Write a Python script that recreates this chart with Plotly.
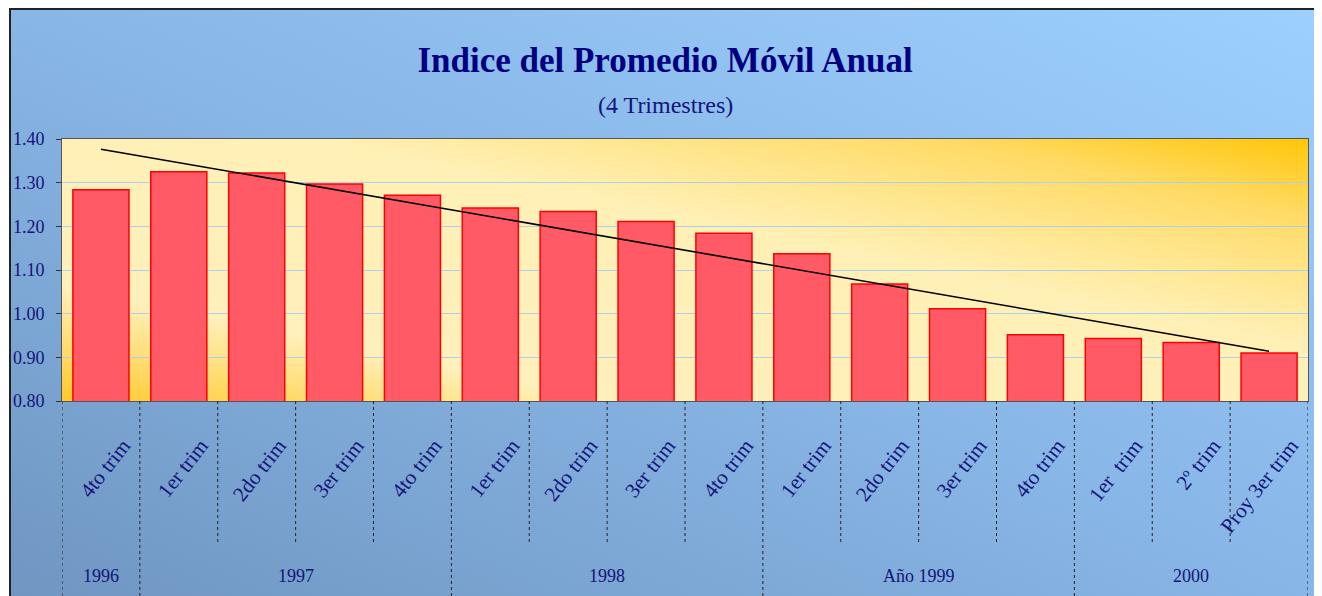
import base64
import numpy as np
import plotly.graph_objects as go

# ---------------- data ----------------
quarters = ["4to trim", "1er trim", "2do trim", "3er trim", "4to trim",
            "1er trim", "2do trim", "3er trim", "4to trim",
            "1er trim", "2do trim", "3er trim", "4to trim",
            "1er  trim", "2º trim", "Proy 3er trim"]
years = ["1996", "1997", "1998", "Año 1999", "2000"]
year_counts = [1, 4, 4, 4, 3]
values = [1.284, 1.325, 1.322, 1.297, 1.271, 1.242, 1.234, 1.211,
          1.184, 1.137, 1.068, 1.011, 0.952, 0.943, 0.934, 0.910]
y_tick_vals = [0.80, 0.90, 1.00, 1.10, 1.20, 1.30, 1.40]

# ---------------- layout geometry ----------------
OFF = 8                      # page body margin
W, H = 1322 - OFF, 596 - OFF
ML, MR, MT, MB = 54, 14, 131, 195
PW, PH = W - ML - MR, H - MT - MB

FONT = "Liberation Serif, Times New Roman, serif"
NAVY = "#14147a"


def px_x(rx):
    return (rx - OFF - ML) / PW


def px_y(ry):
    return (H - MB - (ry - OFF)) / PH


def svg_uri(w, h, stops, x1, y1, x2, y2):
    st = "".join(f"<stop offset='{o}' stop-color='{c}'/>" for o, c in stops)
    svg = (f"<svg xmlns='http://www.w3.org/2000/svg' width='{w}' height='{h}' "
           f"viewBox='0 0 {w} {h}' preserveAspectRatio='none'><defs>"
           f"<linearGradient id='g' x1='{x1}' y1='{y1}' x2='{x2}' y2='{y2}'>{st}"
           f"</linearGradient></defs><rect width='{w}' height='{h}' fill='url(#g)'/></svg>")
    return "data:image/svg+xml;base64," + base64.b64encode(svg.encode()).decode()


x = np.arange(len(values))
slope, intercept = np.polyfit(x, values, 1)
trend = slope * x + intercept

fig = go.Figure()
fig.add_trace(go.Bar(
    x=x, y=values, width=0.72,
    marker=dict(color="#ff5a66", line=dict(color="#ff0000", width=1.5)),
    hoverinfo="y", showlegend=False,
))
fig.add_trace(go.Scatter(
    x=x[[0, -1]], y=trend[[0, -1]], mode="lines",
    line=dict(color="#000000", width=1.6), showlegend=False, hoverinfo="skip",
))

# backgrounds (gradients)
chart_bg = svg_uri(1312, 588, [(0, "#7096c2"), (0.5, "#88b6e6"), (1, "#9dd0ff")], 0, 1, 1, 0)
plot_bg = svg_uri(1246, 262, [(0, "#ffc928"), (0.22, "#fff0bc"), (0.6, "#fff0b6"),
                              (0.85, "#ffdb66"), (1, "#ffc608")], 0, 1, 1, 0)
images = [
    dict(source=chart_bg, xref="paper", yref="paper", x=px_x(10), y=px_y(8),
         sizex=(1322 - 10) / PW, sizey=(596 - 8) / PH, xanchor="left", yanchor="top",
         sizing="stretch", layer="below"),
    dict(source=plot_bg, xref="paper", yref="paper", x=0, y=1, sizex=1, sizey=1,
         xanchor="left", yanchor="top", sizing="stretch", layer="below"),
]

shapes = []
# chart border
shapes.append(dict(type="rect", xref="paper", yref="paper", x0=px_x(10), x1=px_x(1324),
                   y0=px_y(598), y1=px_y(9), line=dict(color="#222222", width=2)))
# category separators (dotted)
boundaries = np.cumsum([0] + year_counts)
for i in range(len(values) + 1):
    is_year = i in boundaries
    shapes.append(dict(type="line", xref="x", yref="paper", x0=i - 0.5, x1=i - 0.5,
                       y0=0, y1=px_y(597) if is_year else px_y(543),
                       line=dict(color="#222222", width=1, dash="dot")))

annotations = [
    dict(text="(4 Trimestres)", xref="paper", yref="paper", x=px_x(665), y=px_y(105),
         showarrow=False, font=dict(family=FONT, size=24, color=NAVY), yanchor="middle"),
]
for k, (yr, n) in enumerate(zip(years, year_counts)):
    c = (boundaries[k] + boundaries[k + 1] - 1) / 2
    annotations.append(dict(text=yr, xref="x", yref="paper", x=c, y=px_y(576),
                            showarrow=False, yanchor="middle",
                            font=dict(family=FONT, size=18, color=NAVY)))

fig.update_layout(
    width=W, height=H,
    margin=dict(l=ML, r=MR, t=MT, b=MB, autoexpand=False),
    paper_bgcolor="#ffffff", plot_bgcolor="rgba(0,0,0,0)",
    title=dict(text="<b>Indice del Promedio Móvil Anual</b>", x=(665 - OFF) / W,
               xref="container", xanchor="center", y=1 - (60 - OFF) / H, yanchor="middle",
               yref="container",
               font=dict(family=FONT, size=35, color="#000080")),
    images=images, shapes=shapes, annotations=annotations,
    xaxis=dict(range=[-0.5, len(values) - 0.5], tickvals=list(x), ticktext=quarters,
               tickangle=-52, showgrid=False, zeroline=False, ticks="",
               showline=True, linecolor="#555555", linewidth=1, mirror=True,
               tickfont=dict(family=FONT, size=21, color=NAVY),
               ticklabelstandoff=23, ticklabelshift=22, automargin=False),
    yaxis=dict(range=[0.80, 1.40], tickvals=y_tick_vals, tickformat=".2f",
               showgrid=True, gridcolor="#a8d0f0", gridwidth=1.2, zeroline=False,
               ticks="outside", ticklen=5, tickcolor="#333333",
               showline=True, linecolor="#555555", linewidth=1, mirror=True,
               tickfont=dict(family=FONT, size=18, color=NAVY),
               ticklabelstandoff=8, automargin=False),
)

fig.write_html("out.html")
